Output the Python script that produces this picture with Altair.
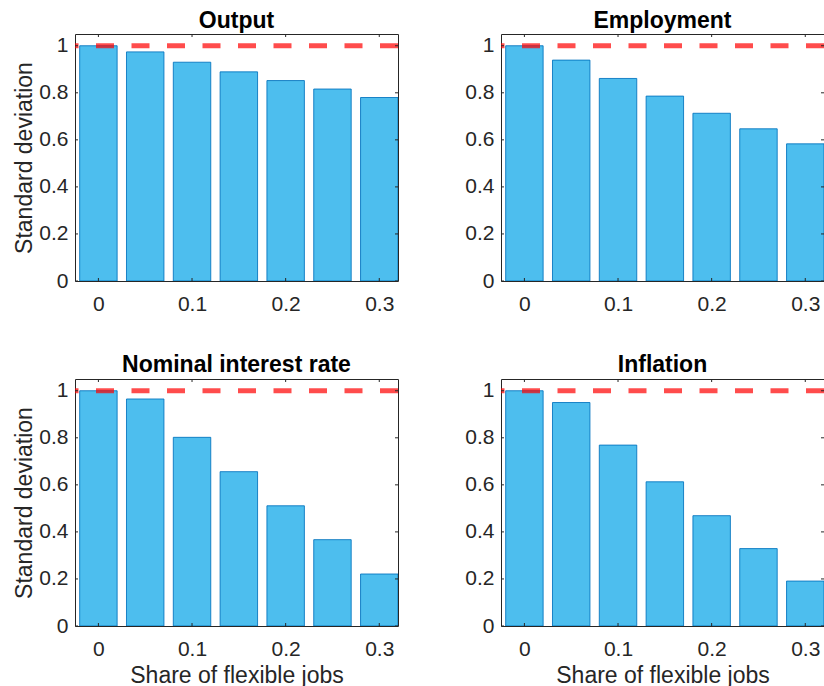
import altair as alt
import pandas as pd

# Share of flexible jobs on the horizontal axis
share = [0.0, 0.05, 0.10, 0.15, 0.20, 0.25, 0.30]

# Standard deviation relative to the no-flexibility benchmark
output_sd = [1.000, 0.974, 0.930, 0.889, 0.852, 0.816, 0.780]
employment_sd = [1.000, 0.939, 0.861, 0.786, 0.713, 0.647, 0.583]
interest_sd = [1.000, 0.965, 0.802, 0.656, 0.511, 0.367, 0.221]
inflation_sd = [1.000, 0.950, 0.769, 0.613, 0.469, 0.329, 0.191]

panel_titles = ["Output", "Employment", "Nominal interest rate", "Inflation"]
x_ticks = [0, 0.1, 0.2, 0.3]
y_ticks = [0, 0.2, 0.4, 0.6, 0.8, 1.0]
benchmark = 1.0

FONT = "Liberation Sans"
AX = "#262626"
W, H = 323, 247
BAR_HALF = 0.02

x_scale = alt.Scale(domain=[-0.025, 0.32], nice=False, zero=False)
y_scale = alt.Scale(domain=[0, 1.05], nice=False, zero=False)


def panel(title, values, show_y_title, show_x_title, title_offset):
    df = pd.DataFrame({"share": share, "sd": values})
    x_axis = alt.Axis(
        values=x_ticks, format="~g", tickSize=0, domain=False, grid=False,
        labelFont=FONT, labelFontSize=21, labelColor=AX, labelPadding=12,
        title="Share of flexible jobs" if show_x_title else "",
        titleFont=FONT, titleFontSize=23, titleFontWeight="normal", titleColor=AX,
        titleBaseline="alphabetic", titleY=56, titleX=W / 2,
    )
    y_axis = alt.Axis(
        values=y_ticks, format="~g", tickSize=0, domain=False, grid=False,
        labelFont=FONT, labelFontSize=21, labelColor=AX, labelPadding=7,
        title="Standard deviation" if show_y_title else "",
        titleFont=FONT, titleFontSize=23, titleFontWeight="normal", titleColor=AX,
        titleAngle=270, titleBaseline="alphabetic", titleAlign="center",
        titleX=-44, titleY=H / 2,
    )

    bars = alt.Chart(df).transform_calculate(
        lo=f"datum.share - {BAR_HALF}", hi=f"datum.share + {BAR_HALF}"
    ).mark_bar(
        color="#4DBEEE", stroke="#0072BD", strokeWidth=1, strokeOpacity=0.85, clip=True
    ).encode(
        x=alt.X("lo:Q", scale=x_scale, axis=x_axis),
        x2="hi:Q",
        y=alt.Y("sd:Q", scale=y_scale, axis=y_axis),
        y2=alt.datum(0),
    )

    ref = alt.Chart(pd.DataFrame({"sd": [benchmark]})).mark_rule(
        color="#FF0000", opacity=0.7, strokeWidth=5, strokeDash=[18, 17.5], strokeCap="butt"
    ).encode(y=alt.Y("sd:Q", scale=y_scale))

    xt = pd.DataFrame({"lo": x_ticks})
    yt = pd.DataFrame({"sd": y_ticks})
    tick_style = dict(color=AX, strokeWidth=1)
    bottom_ticks = alt.Chart(xt).mark_rule(**tick_style).encode(
        x=alt.X("lo:Q", scale=x_scale), y=alt.value(H), y2=alt.value(H - 3))
    top_ticks = alt.Chart(xt).mark_rule(**tick_style).encode(
        x=alt.X("lo:Q", scale=x_scale), y=alt.value(0), y2=alt.value(3))
    left_ticks = alt.Chart(yt).mark_rule(**tick_style).encode(
        y=alt.Y("sd:Q", scale=y_scale), x=alt.value(0), x2=alt.value(3))
    right_ticks = alt.Chart(yt).mark_rule(**tick_style).encode(
        y=alt.Y("sd:Q", scale=y_scale), x=alt.value(W), x2=alt.value(W - 3))

    return alt.layer(
        bars, ref, bottom_ticks, top_ticks, left_ticks, right_ticks
    ).properties(
        width=W, height=H,
        title=alt.TitleParams(
            text=title, font=FONT, fontSize=23, fontWeight="bold", color="black",
            baseline="alphabetic", offset=title_offset, anchor="middle", frame="group",
        ),
    )


charts = [
    panel(panel_titles[0], output_sd, True, False, -17),
    panel(panel_titles[1], employment_sd, False, False, -17),
    panel(panel_titles[2], interest_sd, True, True, -16),
    panel(panel_titles[3], inflation_sd, False, True, -16),
]

chart = alt.concat(
    *charts, columns=2, spacing={"row": 98, "column": 103}, bounds="flush"
).properties(
    autosize={"type": "none"},
    padding={"left": 75, "top": 34, "right": 749, "bottom": 652},
    background="white",
).configure_view(stroke=AX, strokeWidth=1)

chart.save("out.html", embed_options={"renderer": "svg", "actions": False})
